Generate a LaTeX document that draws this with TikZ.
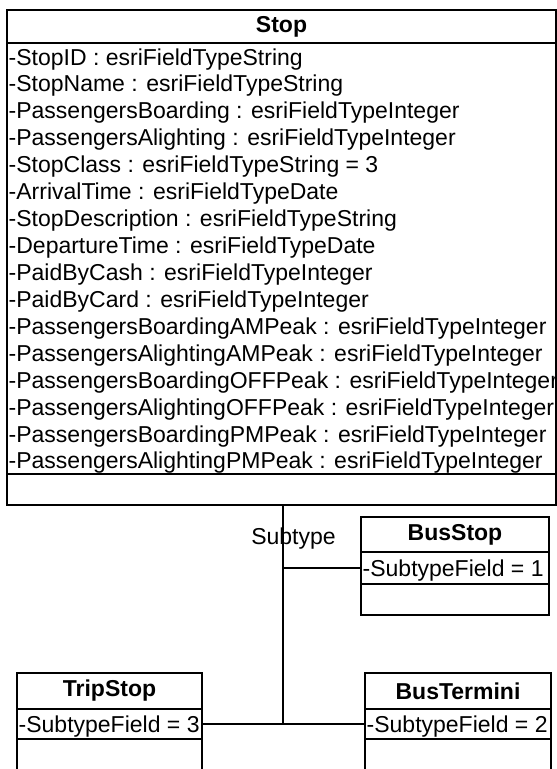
\documentclass[tikz,border=0pt]{standalone}
\usepackage{fontspec}
\setmainfont{Liberation Sans}
\begin{document}
\begin{tikzpicture}[x=1pt,y=-1pt,
  box/.style={draw=black, line width=1.4pt, rectangle, inner sep=0pt, outer sep=0pt},
  ttl/.style={font=\fontsize{23}{27}\selectfont\bfseries, text=black},
  attr/.style={font=\fontsize{23}{27}\selectfont, inner sep=0pt, anchor=base west, text=black},
  lbl/.style={font=\fontsize{23}{27}\selectfont, inner sep=0pt, text=black},
  conn/.style={draw=black, line width=1.4pt}]
\useasboundingbox (0,0) rectangle (557,769);
\clip (0,0) rectangle (557,769);
% ---------- Stop ----------
\node[box, ttl, minimum width=549pt, minimum height=33pt] (stopT) at (281.5,26.5) {Stop};
\node[box, minimum width=549pt, minimum height=431pt, anchor=north west] (stopA) at (7,43) {};
\foreach \t [count=\i from 0] in {
  -StopID : esriFieldTypeString,
  -StopName : esriFieldTypeString,
  -PassengersBoarding : esriFieldTypeInteger,
  -PassengersAlighting : esriFieldTypeInteger,
  -StopClass : esriFieldTypeString = 3,
  -ArrivalTime : esriFieldTypeDate,
  -StopDescription : esriFieldTypeString,
  -DepartureTime : esriFieldTypeDate,
  -PaidByCash : esriFieldTypeInteger,
  -PaidByCard : esriFieldTypeInteger,
  -PassengersBoardingAMPeak : esriFieldTypeInteger,
  -PassengersAlightingAMPeak : esriFieldTypeInteger,
  -PassengersBoardingOFFPeak : esriFieldTypeInteger,
  -PassengersAlightingOFFPeak : esriFieldTypeInteger,
  -PassengersBoardingPMPeak : esriFieldTypeInteger,
  -PassengersAlightingPMPeak : esriFieldTypeInteger}
  \node[attr] (att\i) at (8.5, 65+\i*26.93) {\t};
\node[box, minimum width=549pt, minimum height=31pt, anchor=north west] (stopE) at (7,474) {};
% ---------- BusStop ----------
\node[box, ttl, minimum width=188pt, minimum height=35pt] (busT) at (455,534.5) {BusStop};
\node[box, minimum width=188pt, minimum height=32pt, anchor=north west] (busA) at (361,552) {};
\node[attr] (busAt) at (362.5,576) {-SubtypeField = 1};
\node[box, minimum width=188pt, minimum height=31pt, anchor=north west] (busE) at (361,584) {};
% ---------- TripStop ----------
\node[box, ttl, minimum width=185pt, minimum height=36pt] (tripT) at (109.5,691) {TripStop};
\node[box, minimum width=185pt, minimum height=30pt, anchor=north west] (tripA) at (17,709) {};
\node[attr] (tripAt) at (18.5,732) {-SubtypeField = 3};
\node[box, minimum width=185pt, minimum height=60pt, anchor=north west] (tripE) at (17,739) {};
% ---------- BusTermini ----------
\node[box, ttl, minimum width=186pt, minimum height=36pt] (termT) at (458,691) {BusTermini};
\node[box, minimum width=186pt, minimum height=30pt, anchor=north west] (termA) at (365,709) {};
\node[attr] (termAt) at (366.5,732) {-SubtypeField = 2};
\node[box, minimum width=186pt, minimum height=60pt, anchor=north west] (termE) at (365,739) {};
% ---------- Subtype connector ----------
\node[lbl] (sub) at (293.5,539) {Subtype};
\coordinate (j1) at (283,568);
\coordinate (j2) at (283,724);
\draw[conn] (stopE.south -| j1) -- (j2);
\draw[conn] (j1) -- (busA.west);
\draw[conn] (tripA.east) -- (termA.west);
\end{tikzpicture}
\end{document}
